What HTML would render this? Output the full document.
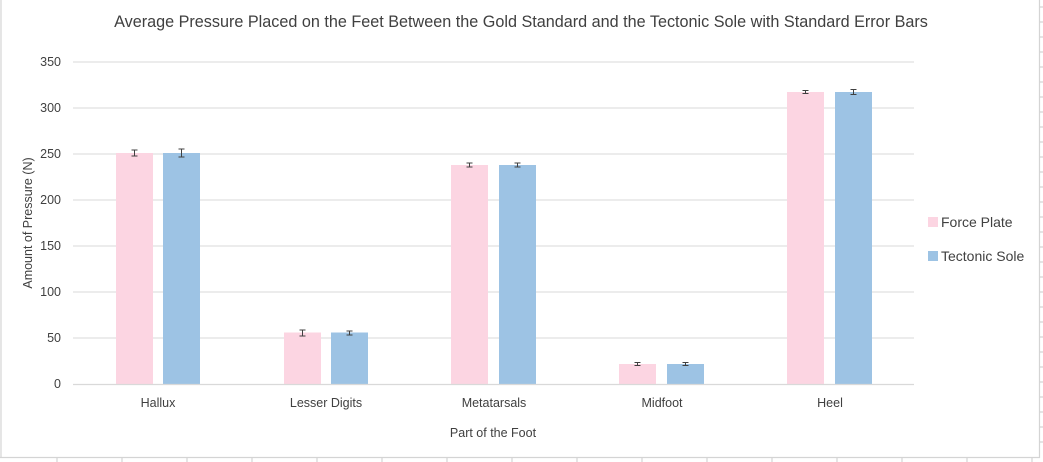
<!DOCTYPE html>
<html><head><meta charset="utf-8"><style>
html,body{margin:0;padding:0;background:#fff;}
svg{display:block;font-family:"Liberation Sans",sans-serif;}
</style></head><body>
<svg width="1043" height="462" viewBox="0 0 1043 462" xmlns="http://www.w3.org/2000/svg">
<rect x="0" y="0" width="1043" height="462" fill="#fff"/>
<g stroke="#d4d4d4" stroke-width="1.2" fill="none">
<line x1="1" y1="0" x2="1" y2="457"/>
<line x1="0" y1="457.5" x2="1040" y2="457.5"/>
<line x1="1039.5" y1="0" x2="1039.5" y2="458"/>
<path d="M57 458v4M122 458v4M187 458v4M252 458v4M317 458v4M382 458v4M447 458v4M512 458v4M577 458v4M642 458v4M707 458v4M772 458v4M837 458v4M902 458v4M967 458v4M1032 458v4"/>
<path d="M1040 7h3M1040 22h3M1040 37h3M1040 52h3M1040 67h3M1040 82h3M1040 97h3M1040 112h3M1040 127h3M1040 142h3M1040 157h3M1040 172h3M1040 187h3M1040 202h3M1040 217h3M1040 232h3M1040 247h3M1040 262h3M1040 277h3M1040 292h3M1040 307h3M1040 322h3M1040 337h3M1040 352h3M1040 367h3M1040 382h3M1040 397h3M1040 412h3M1040 427h3M1040 442h3"/>
</g>
<text x="521" y="27" text-anchor="middle" font-size="16.2" fill="#404040">Average Pressure Placed on the Feet Between the Gold Standard and the Tectonic Sole with Standard Error Bars</text>
<g stroke="#d9d9d9" stroke-width="1">
<line x1="73" x2="914" y1="62" y2="62"/>
<line x1="73" x2="914" y1="108" y2="108"/>
<line x1="73" x2="914" y1="154" y2="154"/>
<line x1="73" x2="914" y1="200" y2="200"/>
<line x1="73" x2="914" y1="246" y2="246"/>
<line x1="73" x2="914" y1="292" y2="292"/>
<line x1="73" x2="914" y1="338" y2="338"/>
</g>
<g font-size="12.5" fill="#404040" text-anchor="end">
<text x="61" y="66">350</text><text x="61" y="112">300</text><text x="61" y="158">250</text>
<text x="61" y="204">200</text><text x="61" y="250">150</text><text x="61" y="296">100</text>
<text x="61" y="342">50</text><text x="61" y="388">0</text>
</g>
<g>
<rect x="116" y="153" width="37" height="231" fill="#fcd5e2"/>
<rect x="163" y="153" width="37" height="231" fill="#9dc3e4"/>
<rect x="284" y="332.5" width="37" height="51.5" fill="#fcd5e2"/>
<rect x="331" y="332.5" width="37" height="51.5" fill="#9dc3e4"/>
<rect x="451" y="165" width="37" height="219" fill="#fcd5e2"/>
<rect x="499" y="165" width="37" height="219" fill="#9dc3e4"/>
<rect x="619" y="364" width="37" height="20" fill="#fcd5e2"/>
<rect x="667" y="364" width="37" height="20" fill="#9dc3e4"/>
<rect x="787" y="92" width="37" height="292" fill="#fcd5e2"/>
<rect x="835" y="92" width="37" height="292" fill="#9dc3e4"/>
</g>
<line x1="73" x2="914" y1="384.5" y2="384.5" stroke="#d9d9d9" stroke-width="1.2"/>
<g stroke="#404040" stroke-width="1" fill="none">
<path d="M134.5 150v6M131.5 150h6M131.5 156h6"/>
<path d="M181.5 149v8M178.5 149h6M178.5 157h6"/>
<path d="M302.5 330v6M299.5 330h6M299.5 336h6"/>
<path d="M349.5 331v4M346.5 331h6M346.5 335h6"/>
<path d="M469.5 163v4M466.5 163h6M466.5 167h6"/>
<path d="M517.5 163v4M514.5 163h6M514.5 167h6"/>
<path d="M637.5 362.5v3M634.5 362.5h6M634.5 365.5h6"/>
<path d="M685.5 362.5v3M682.5 362.5h6M682.5 365.5h6"/>
<path d="M805.5 90.5v3M802.5 90.5h6M802.5 93.5h6"/>
<path d="M853.5 89.5v5M850.5 89.5h6M850.5 94.5h6"/>
</g>
<g font-size="12.5" fill="#404040" text-anchor="middle">
<text x="158" y="407">Hallux</text>
<text x="326" y="407">Lesser Digits</text>
<text x="494" y="407">Metatarsals</text>
<text x="662" y="407">Midfoot</text>
<text x="830" y="407">Heel</text>
<text x="493" y="437">Part of the Foot</text>
</g>
<text transform="translate(32,223) rotate(-90)" font-size="12.5" fill="#404040" text-anchor="middle">Amount of Pressure (N)</text>
<rect x="928" y="217" width="10" height="10" fill="#fcd5e2"/>
<text x="941" y="227" font-size="14" fill="#404040">Force Plate</text>
<rect x="928" y="251" width="10" height="10" fill="#9dc3e4"/>
<text x="941" y="261" font-size="14" fill="#404040">Tectonic Sole</text>
</svg>
</body></html>
